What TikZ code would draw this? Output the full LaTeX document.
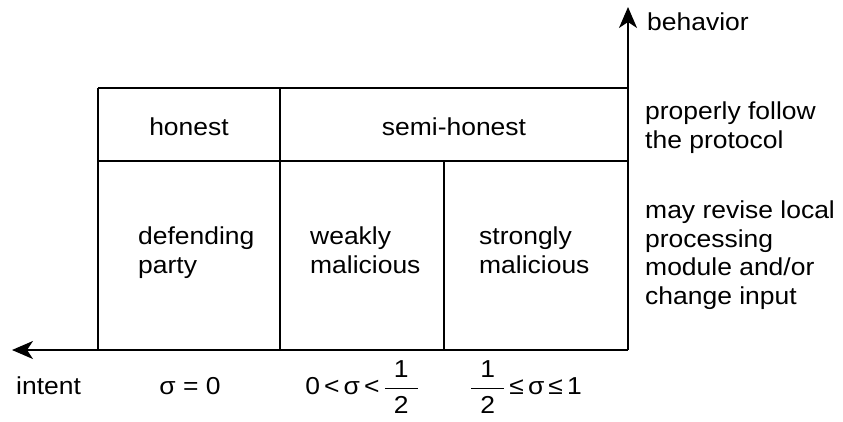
\documentclass[tikz,border=0pt]{standalone}
\usepackage{fontspec}
\setmainfont{Liberation Sans}[FakeStretch=1.08]
\usetikzlibrary{arrows.meta}
% one half, with a bar wider than its digits
\newcommand{\halffrac}{$\displaystyle\frac{\mbox{\hspace{9pt}1\hspace{9pt}}}{\mbox{\rule{0pt}{24pt}2}}$}
\begin{document}
\begin{tikzpicture}[x=1pt,y=-1pt,
  lbl/.style={inner sep=0pt,font=\fontsize{24.5}{28.5}\selectfont},
  blk/.style={lbl,align=left,anchor=base west},
  frame/.style={line width=2pt},
  axis/.style={line width=2pt,-{Stealth[length=21pt,width=18pt,inset=6pt]}}]
\useasboundingbox (0,0) rectangle (843,421);
% corner of the two axes and table grid points
\coordinate (O) at (628,350);
\coordinate (xend) at (12,350);
\coordinate (yend) at (628,7);
\coordinate (tl) at (98,88);
\coordinate (tr) at (628,88);
\coordinate (ml) at (98,161);
\coordinate (mr) at (628,161);
\coordinate (bl) at (98,350);
\coordinate (d1t) at (280,88);
\coordinate (d1b) at (280,350);
\coordinate (d2t) at (444,161);
\coordinate (d2b) at (444,350);
% axes
\draw[axis] (O) -- (xend);
\draw[axis] (O) -- (yend);
% table
\draw[frame] (tl) -- (tr);
\draw[frame] (ml) -- (mr);
\draw[frame] (tl) -- (bl);
\draw[frame] (d1t) -- (d1b);
\draw[frame] (d2t) -- (d2b);
% header row
\node[lbl,anchor=base] (honest) at (189,135) {honest};
\node[lbl,anchor=base] (semi) at (454,135) {semi-honest};
% body row (multi-line nodes are placed by the baseline of their last line)
\node[blk] (defend) at (138,273) {defending\\party};
\node[blk] (weak) at (310,273) {weakly\\malicious};
\node[blk] (strong) at (479,273) {strongly\\malicious};
% axis labels
\node[lbl,anchor=base west] (behavior) at (647,30) {behavior};
\node[blk] (follow) at (645,148) {properly follow\\the protocol};
\node[blk] (revise) at (645,304) {may revise local\\processing\\module and/or\\change input};
\node[lbl,anchor=base west] (intent) at (16,394) {intent};
% intent ranges
\node[lbl,anchor=base] (s0) at (190,394) {σ = 0};
\node[lbl,anchor=base] (s1) at (362,394) {0\,<\,σ\,<\,\halffrac};
\node[lbl,anchor=base] (s2) at (526,394) {\halffrac\,≤\,σ\,≤\,1};
\end{tikzpicture}
\end{document}
